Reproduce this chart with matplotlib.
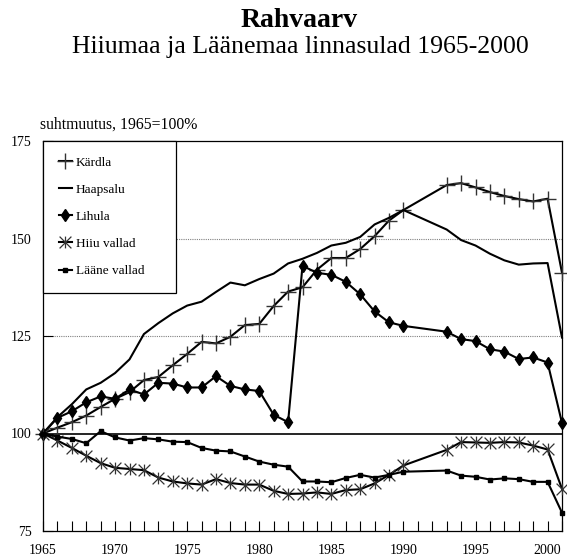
import matplotlib
matplotlib.use('Agg')
import matplotlib.pyplot as plt
from matplotlib.path import Path

plt.rcParams['font.family'] = ['Liberation Serif', 'DejaVu Serif']

# aastad (1991 ja 1992 puuduvad)
years = [1965, 1966, 1967, 1968, 1969, 1970, 1971, 1972, 1973, 1974,
         1975, 1976, 1977, 1978, 1979, 1980, 1981, 1982, 1983, 1984,
         1985, 1986, 1987, 1988, 1989, 1990, 1993, 1994, 1995, 1996,
         1997, 1998, 1999, 2000, 2001]

kardla = [100, 101.5, 102.9, 104.6, 106.8, 108.9, 110.6, 113.7, 114.5, 117.5,
          120.4, 123.5, 123.1, 124.8, 127.8, 128.1, 132.7, 136.4, 137.5, 142.0,
          145.0, 145.0, 147.3, 150.6, 154.6, 157.3, 163.7, 164.2, 163.1, 161.9,
          160.9, 160.1, 159.5, 160.2, 141.2]

haapsalu = [100, 104.2, 107.5, 111.3, 113.0, 115.5, 119.0, 125.5, 128.3, 130.8,
            132.8, 133.8, 136.3, 138.7, 138.0, 139.6, 141.0, 143.6, 144.8, 146.3,
            148.2, 148.9, 150.4, 153.6, 155.3, 157.3, 152.3, 149.6, 148.2, 146.1,
            144.4, 143.3, 143.6, 143.7, 124.6]

lihula = [100, 104.0, 105.7, 108.0, 109.5, 108.9, 111.3, 110.0, 113.0, 112.8,
          111.8, 111.8, 114.7, 112.2, 111.3, 110.9, 104.8, 102.9, 143.0, 141.2,
          140.7, 138.9, 135.7, 131.3, 128.5, 127.6, 126.1, 124.2, 123.7, 121.6,
          121.0, 119.1, 119.5, 118.2, 102.7]

hiiu_vallad = [100, 98.2, 96.3, 94.3, 92.4, 91.2, 90.9, 90.6, 88.7, 87.7,
               87.2, 86.9, 88.3, 87.3, 86.9, 86.9, 85.3, 84.5, 84.6, 84.9,
               84.5, 85.5, 85.7, 87.2, 89.4, 91.8, 95.8, 97.8, 97.7, 97.6,
               97.8, 97.7, 96.9, 95.9, 85.8]

laane_vallad = [100, 99.2, 98.6, 97.5, 100.6, 99.0, 98.2, 98.8, 98.5, 97.9,
                97.8, 96.3, 95.6, 95.4, 94.1, 92.8, 92.0, 91.5, 87.7, 87.7,
                87.5, 88.6, 89.4, 88.7, 89.4, 90.2, 90.5, 89.2, 88.9, 88.2,
                88.5, 88.3, 87.6, 87.6, 79.7]

# Excel-laadne taht: püstjoon + kaks diagonaali
star = Path([(0, -1), (0, 1), (-1, -1), (1, 1), (-1, 1), (1, -1)],
            [Path.MOVETO, Path.LINETO, Path.MOVETO, Path.LINETO,
             Path.MOVETO, Path.LINETO])

fig = plt.figure(figsize=(5.67, 5.55), dpi=100)
ax = fig.add_axes([43/567, 1-531/555, 519/567, 390/555])

ax.axhline(125, color='#808080', lw=0.8, ls=(0, (1, 1)), zorder=1)
ax.axhline(150, color='#808080', lw=0.8, ls=(0, (1, 1)), zorder=1)
ax.axhline(100, color='black', lw=1.2, zorder=1)

lw = 1.5
ax.plot(years, kardla, color='black', lw=lw, marker='+', ms=11,
        mec='#333333', mew=1.0, label='Kärdla', clip_on=False, zorder=3)
ax.plot(years, haapsalu, color='black', lw=lw, label='Haapsalu',
        clip_on=False, zorder=3)
ax.plot(years, lihula, color='black', lw=lw, marker='d', ms=6.5,
        mfc='black', mec='black', label='Lihula', clip_on=False, zorder=3)
ax.plot(years, hiiu_vallad, color='black', lw=lw, marker=star, ms=8.5,
        mec='#333333', mew=0.9, label='Hiiu vallad', clip_on=False, zorder=3)
ax.plot(years, laane_vallad, color='black', lw=lw, marker='s', ms=3,
        mfc='black', mec='black', label='Lääne vallad', clip_on=False, zorder=3)

ax.set_xlim(1965, 2001)
ax.set_ylim(75, 175)
ax.set_xticks(range(1965, 2001, 5))
ax.set_xticks(range(1965, 2002), minor=True)
ax.set_yticks([75, 100, 125, 150, 175])
ax.tick_params(axis='x', which='both', direction='in', length=7, width=0.8,
               labelsize=10, pad=9)
ax.tick_params(axis='y', direction='in', length=7, width=0.8,
               labelsize=10, pad=8)
for s in ax.spines.values():
    s.set_linewidth(0.9)

leg = ax.legend(loc='upper left', bbox_to_anchor=(0, 0, 133/519, 1),
                mode='expand', borderaxespad=0, fontsize=9.5,
                handlelength=1.0, handletextpad=0.3, labelspacing=1.12,
                borderpad=1.2, numpoints=1, fancybox=False, framealpha=1)
leg.get_frame().set_edgecolor('black')
leg.get_frame().set_linewidth(0.9)
leg.set_zorder(5)

fig.text(0.527, 1-27/555, 'Rahvaarv', ha='center', va='baseline',
         fontsize=20, fontweight='bold')
fig.text(0.53, 1-53/555, 'Hiiumaa ja Läänemaa linnasulad 1965-2000',
         ha='center', va='baseline', fontsize=18.5)
fig.text(40/567, 1-129/555, 'suhtmuutus, 1965=100%', ha='left',
         va='baseline', fontsize=11.3)

fig.savefig('out.png', dpi=100)
